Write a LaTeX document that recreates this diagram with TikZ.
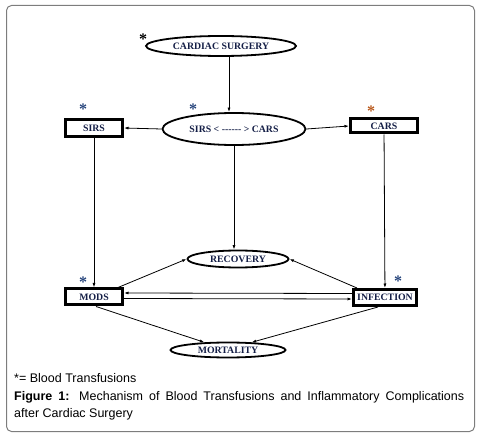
\documentclass[tikz,border=0pt]{standalone}
\usepackage{fontspec}
\usepackage{tikz}
\usetikzlibrary{arrows.meta,positioning,shapes.geometric}
\newfontfamily\lblfont{Liberation Serif}
\newfontfamily\capfont{Liberation Sans}
\definecolor{labelnavy}{RGB}{20,30,70}
\definecolor{framegray}{RGB}{125,125,125}
\definecolor{starblue}{RGB}{40,70,125}
\definecolor{starbrown}{RGB}{185,90,30}

\begin{document}
\begin{tikzpicture}[x=1pt, y=-1pt, >={Latex[length=4.5pt,width=3pt]},
 every node/.style={font=\lblfont\bfseries\fontsize{9.8}{12}\selectfont, text=labelnavy, inner sep=0pt},
 oval/.style={draw=black, ellipse, line width=1.8pt},
 box/.style={draw=black, rectangle, line width=3pt},
 link/.style={->, line width=0.8pt},
 starmark/.style={font=\lblfont\bfseries\fontsize{16}{16}\selectfont, anchor=base},
 captext/.style={font=\capfont\fontsize{12.5}{17}\selectfont, text=black, align=justify}]
\useasboundingbox (0,0) rectangle (480,441);
\draw[framegray, line width=1pt, rounded corners=5pt] (6.5,5.5) rectangle (474.5,431.5);
\node[oval, minimum width=150pt, minimum height=20pt] (cardiac) at (221,46) {CARDIAC SURGERY};
\node[oval, minimum width=143pt, minimum height=32pt] (sc) at (234,129) {SIRS < -{}-{}-{}-{}-{}- > CARS};
\node[box, minimum width=57pt, minimum height=17pt] (sirs) at (94,128) {SIRS};
\node[box, minimum width=67pt, minimum height=14pt] (cars) at (384,126) {CARS};
\node[oval, minimum width=101pt, minimum height=17pt] (recovery) at (238,259) {RECOVERY};
\node[box, minimum width=57pt, minimum height=16pt] (mods) at (94,297) {MODS};
\node[box, minimum width=63pt, minimum height=16pt] (infection) at (385,297.5) {INFECTION};
\node[oval, minimum width=115pt, minimum height=15pt] (mortality) at (228,350) {MORTALITY};
\node[starmark, text=black] (cardiacstar) at (143,45) {*};
\node[starmark, text=starblue] (sirsstar) at (83,115) {*};
\node[starmark, text=starblue] (scstar) at (193,115) {*};
\node[starmark, text=starbrown] (carsstar) at (371,117) {*};
\node[starmark, text=starblue] (modsstar) at (83,288) {*};
\node[starmark, text=starblue] (infectionstar) at (398,287) {*};
\draw[link] ([xshift=8pt]cardiac.south) -- ([xshift=8pt]cardiac.south |- sc.north);
\draw[link] (sc.west) -- (sirs.east);
\draw[link] (sc.east) -- (cars.west);
\draw[link] (sirs) -- (mods);
\draw[link] (sc.south) -- (sc.south |- recovery.north);
\draw[link] (cars) -- (infection);
\draw[link] ([yshift=4pt]infection.west) -- ([yshift=4pt]mods.east);
\draw[link] ([yshift=-1.5pt]mods.east) -- ([yshift=-1.5pt]infection.west);
\draw[link] ([xshift=-6pt]mods.north east) -- (recovery.west);
\draw[link] ([xshift=5pt]infection.north west) -- (recovery.east);
\draw[link] ([xshift=2pt]mods.south) -- (mortality.162);
\draw[link] ([xshift=-7pt]infection.south) -- (mortality.18);
\node[captext, anchor=base west] (key) at (14,382) {*= Blood Transfusions};
\node[captext, anchor=north west, text width=450pt] (caption) at (14,391) {\textbf{Figure 1:} Mechanism of Blood Transfusions and Inflammatory Complications\linebreak after Cardiac Surgery};
\end{tikzpicture}
\end{document}
